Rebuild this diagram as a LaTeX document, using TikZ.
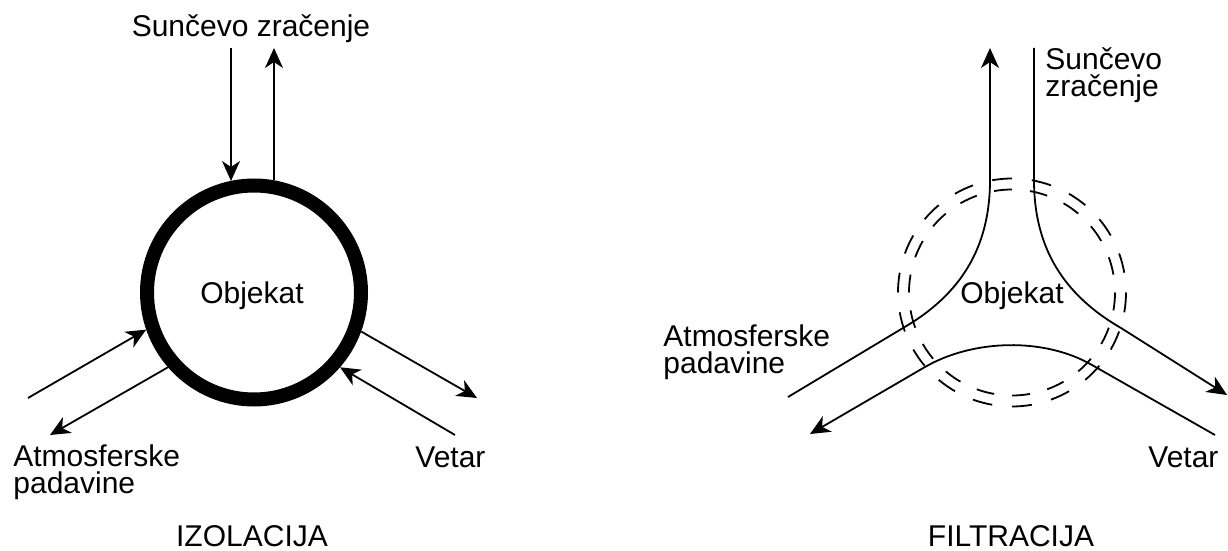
\documentclass[tikz,border=0pt]{standalone}
\usepackage{fontspec}
\setmainfont{Liberation Sans}
\usetikzlibrary{arrows.meta,calc}

\tikzset{
  lbl/.style={inner sep=0pt, font=\fontsize{15pt}{13.5pt}\selectfont},
  flow/.style={line width=0.9pt, black},
  arr/.style={flow, -{Stealth[length=10pt,width=9pt,inset=3pt]}},
  ring/.style={circle, draw=black, line width=7pt, minimum size=107pt, inner sep=0pt},
  ringdash/.style={line width=0.9pt, black}
}

\begin{document}
\begin{tikzpicture}[x=0.5pt,y=0.5pt]
\useasboundingbox (0,0) rectangle (1228,-551);

% ---------- IZOLACIJA: closed, insulating shell ----------
\node[ring] (obj) at (254,-292.5) {};
\node[lbl, anchor=base] (objL) at (252,-304) {Objekat};

\node[lbl, anchor=base] (sunL) at (251,-37) {Sunčevo zračenje};
\coordinate (sunInL)  at (231,-48);
\coordinate (sunOutL) at (274,-48);
\draw[arr] (sunInL) -- (sunInL |- obj.102);
\draw[arr] (obj.80 -| sunOutL) -- (sunOutL);

\coordinate (rainInL)  at (28,-398);
\coordinate (rainOutL) at (50,-435);
\draw[arr] (rainInL) -- (obj.199);
\draw[arr] (obj.221) -- (rainOutL);

\coordinate (windOutL) at (477,-398);
\coordinate (windInL)  at (455,-435);
\draw[arr] (obj.-20) -- (windOutL);
\draw[arr] (windInL) -- (obj.-41);

% multi-line labels are anchored at the baseline of their last line
\node[lbl, anchor=base west, align=left] (rainLblL) at (13,-493) {Atmosferske\\padavine};
\node[lbl, anchor=base west] (windLblL) at (415,-467) {Vetar};
\node[lbl, anchor=base] (titleL) at (252,-546) {IZOLACIJA};

% ---------- FILTRACIJA: permeable, double dashed shell ----------
\coordinate (fc) at (1012,-292.5);
\foreach \a in {10,30,...,350} {
  \draw[ringdash] ($(fc)+(\a:57pt)$) arc[start angle=\a, delta angle=10, radius=57pt];
  \draw[ringdash] ($(fc)+(\a:51.5pt)$) arc[start angle=\a, delta angle=10, radius=51.5pt];
}
\node[lbl, anchor=base] (objR) at (1012,-303) {Objekat};

% flow entering lower left, leaving at the top
\coordinate (rainInR) at (788,-397);
\coordinate (rainBendR) at (903,-328);
\coordinate (rainTopR) at (990,-180);
\coordinate (rainOutR) at (990,-48);
\draw[arr] (rainInR) -- (rainBendR) to[out=30,in=-90] (rainTopR) -- (rainOutR);

% flow entering at the top, leaving lower right
\coordinate (sunInR) at (1034,-48);
\coordinate (sunTopR) at (1034,-180);
\coordinate (sunBendR) at (1121,-328);
\coordinate (sunOutR) at (1227,-395);
\draw[arr] (sunInR) -- (sunTopR) to[out=-90,in=150] (sunBendR) -- (sunOutR);

% flow entering lower right, leaving lower left
\coordinate (windInR) at (1215,-435);
\coordinate (windBendR) at (1092,-365);
\coordinate (windBendL) at (925,-367);
\coordinate (windOutR) at (810,-434);
\draw[arr] (windInR) -- (windBendR) to[out=150,in=30,looseness=0.85] (windBendL) -- (windOutR);

\node[lbl, anchor=base west, align=left] (sunLblR) at (1045,-97) {Sunčevo\\zračenje};
\node[lbl, anchor=base west, align=left] (rainLblR) at (663,-373) {Atmosferske\\padavine};
\node[lbl, anchor=base west] (windLblR) at (1148,-467) {Vetar};
\node[lbl, anchor=base] (titleR) at (1011,-546) {FILTRACIJA};
\end{tikzpicture}
\end{document}
